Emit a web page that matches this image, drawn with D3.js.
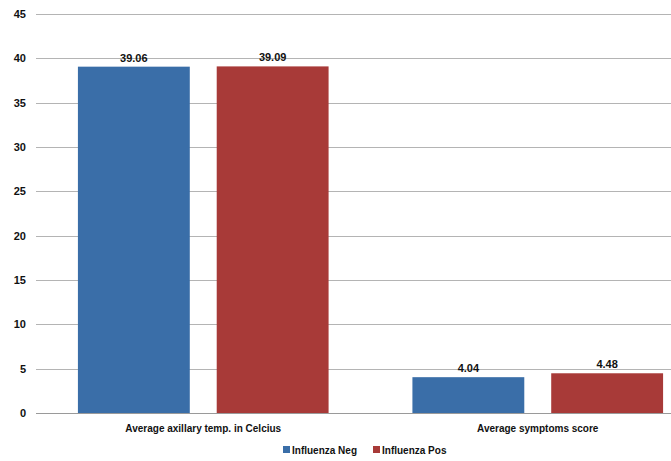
<!DOCTYPE html>
<html><head><meta charset="utf-8">
<script src="https://cdn.jsdelivr.net/npm/d3@7"></script>
<style>
body{margin:0;background:#fff;}
svg text{font-family:"Liberation Sans",Arial,sans-serif;font-weight:bold;fill:#111;}
</style></head>
<body><svg id="c" width="671" height="461"></svg>
<script>
const categories = ["Average axillary temp. in Celcius", "Average symptoms score"];
const seriesNames = ["Influenza Neg", "Influenza Pos"];
const influenzaNeg = [39.06, 4.04];
const influenzaPos = [39.09, 4.48];
const yTicks = [0, 5, 10, 15, 20, 25, 30, 35, 40, 45];
const colors = ["#3A6EA8", "#A83A38"];

const svg = d3.select("#c");
const x0 = d3.scaleBand().domain(categories).range([36, 705]).paddingInner(0).paddingOuter(0);
const x1 = d3.scaleBand().domain(seriesNames).range([0, x0.bandwidth()]).paddingInner(0.194).paddingOuter(0.302);
const y = d3.scaleLinear().domain([0, 45]).range([413, 14]);

// gridlines
svg.append("g").selectAll("line").data(yTicks).join("line")
  .attr("x1", 36).attr("x2", 671)
  .attr("y1", d => Math.round(y(d)) + 0.5).attr("y2", d => Math.round(y(d)) + 0.5)
  .attr("stroke", d => d === 0 ? "#9a9a9a" : "#b4b4b4").attr("stroke-width", 1);

// y axis labels
svg.append("g").selectAll("text").data(yTicks).join("text")
  .attr("x", 26).attr("y", d => y(d) + 4)
  .attr("text-anchor", "end").attr("font-size", 11).text(d => d);

const data = categories.map((c, i) => ({cat: c, vals: [influenzaNeg[i], influenzaPos[i]]}));
const g = svg.append("g").selectAll("g").data(data).join("g")
  .attr("transform", d => `translate(${x0(d.cat)},0)`);
g.selectAll("rect").data(d => d.vals.map((v, j) => ({name: seriesNames[j], v, j}))).join("rect")
  .attr("x", d => x1(d.name)).attr("width", x1.bandwidth())
  .attr("y", d => y(d.v)).attr("height", d => y(0) - y(d.v))
  .attr("fill", d => colors[d.j]);
g.selectAll("text.val").data(d => d.vals.map((v, j) => ({name: seriesNames[j], v, j}))).join("text")
  .attr("class", "val")
  .attr("x", d => x1(d.name) + x1.bandwidth() / 2).attr("y", d => y(d.v) - 5)
  .attr("text-anchor", "middle").attr("font-size", 11).text(d => d.v.toFixed(2));

// category labels
svg.append("g").selectAll("text").data(categories).join("text")
  .attr("x", d => x0(d) + x0.bandwidth() / 2).attr("y", 432)
  .attr("text-anchor", "middle").attr("font-size", 10).text(d => d);

// legend
const legX = [283, 373];
const leg = svg.append("g").selectAll("g").data(seriesNames).join("g")
  .attr("transform", (d, i) => `translate(${legX[i]},446)`);
leg.append("rect").attr("width", 7).attr("height", 7).attr("fill", (d, i) => colors[i]);
leg.append("text").attr("x", 9).attr("y", 8).attr("font-size", 10).text(d => d);
</script></body></html>
